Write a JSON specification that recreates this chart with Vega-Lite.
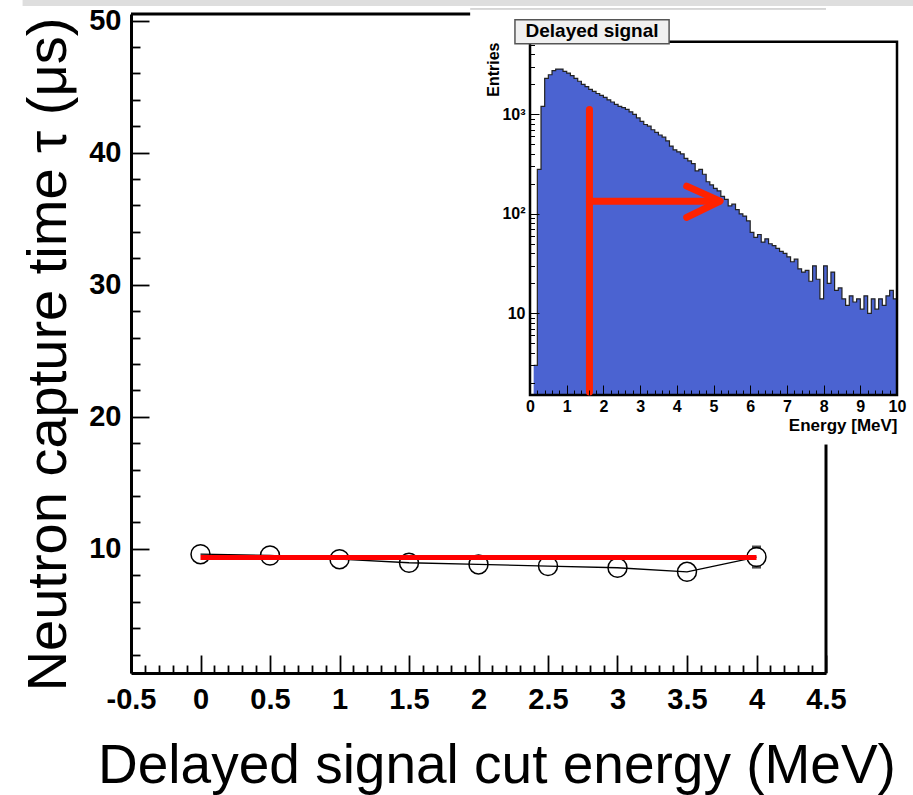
{
  "$schema": "https://vega.github.io/schema/vega-lite/v6.json",
  "width": 695,
  "height": 659,
  "autosize": "none",
  "padding": {"left": 131, "top": 14, "right": 87, "bottom": 122},
  "background": "white",
  "config": {"view": {"stroke": null}, "font": "Liberation Sans"},
  "datasets": {
    "points": [
      {"cut": 0, "tau": 9.6},
      {"cut": 0.5, "tau": 9.5},
      {"cut": 1, "tau": 9.22},
      {"cut": 1.5, "tau": 8.95},
      {"cut": 2, "tau": 8.82},
      {"cut": 2.5, "tau": 8.7},
      {"cut": 3, "tau": 8.57},
      {"cut": 3.5, "tau": 8.26},
      {"cut": 4, "tau": 9.38}
    ],
    "errcaps": [
      {"cut": 4, "tau": 8.62},
      {"cut": 4, "tau": 10.14}
    ],
    "fit": [
      {"cut": 0, "fit": 9.35},
      {"cut": 4, "fit": 9.35}
    ],
    "hist": [
      {"e": 0.1, "n": 3}, {"e": 0.2, "n": 280}, {"e": 0.3, "n": 1200}, {"e": 0.4, "n": 2300},
      {"e": 0.5, "n": 2500}, {"e": 0.6, "n": 2750}, {"e": 0.7, "n": 2850}, {"e": 0.8, "n": 2850},
      {"e": 0.9, "n": 2700}, {"e": 1.0, "n": 2600}, {"e": 1.1, "n": 2450}, {"e": 1.2, "n": 2300},
      {"e": 1.3, "n": 2150}, {"e": 1.4, "n": 2000}, {"e": 1.5, "n": 1900}, {"e": 1.6, "n": 1780},
      {"e": 1.7, "n": 1700}, {"e": 1.8, "n": 1620}, {"e": 1.9, "n": 1550}, {"e": 2.0, "n": 1480},
      {"e": 2.1, "n": 1400}, {"e": 2.2, "n": 1330}, {"e": 2.3, "n": 1260}, {"e": 2.4, "n": 1200},
      {"e": 2.5, "n": 1170}, {"e": 2.6, "n": 1120}, {"e": 2.7, "n": 1060}, {"e": 2.8, "n": 1000},
      {"e": 2.9, "n": 920}, {"e": 3.0, "n": 850}, {"e": 3.1, "n": 790}, {"e": 3.2, "n": 760},
      {"e": 3.3, "n": 700}, {"e": 3.4, "n": 660}, {"e": 3.5, "n": 620}, {"e": 3.6, "n": 590},
      {"e": 3.7, "n": 540}, {"e": 3.8, "n": 480}, {"e": 3.9, "n": 440}, {"e": 4.0, "n": 420},
      {"e": 4.1, "n": 400}, {"e": 4.2, "n": 360}, {"e": 4.3, "n": 340}, {"e": 4.4, "n": 320},
      {"e": 4.5, "n": 270}, {"e": 4.6, "n": 280}, {"e": 4.7, "n": 250}, {"e": 4.8, "n": 210},
      {"e": 4.9, "n": 195}, {"e": 5.0, "n": 180}, {"e": 5.1, "n": 170}, {"e": 5.2, "n": 150},
      {"e": 5.3, "n": 140}, {"e": 5.4, "n": 120}, {"e": 5.5, "n": 125}, {"e": 5.6, "n": 110},
      {"e": 5.7, "n": 100}, {"e": 5.8, "n": 95}, {"e": 5.9, "n": 85}, {"e": 6.0, "n": 65},
      {"e": 6.1, "n": 58}, {"e": 6.2, "n": 62}, {"e": 6.3, "n": 52}, {"e": 6.4, "n": 56},
      {"e": 6.5, "n": 50}, {"e": 6.6, "n": 48}, {"e": 6.7, "n": 45}, {"e": 6.8, "n": 42},
      {"e": 6.9, "n": 40}, {"e": 7.0, "n": 37}, {"e": 7.1, "n": 33}, {"e": 7.2, "n": 35},
      {"e": 7.3, "n": 28}, {"e": 7.4, "n": 26}, {"e": 7.5, "n": 27}, {"e": 7.6, "n": 21},
      {"e": 7.7, "n": 30}, {"e": 7.8, "n": 22}, {"e": 7.9, "n": 14}, {"e": 8.0, "n": 30},
      {"e": 8.1, "n": 20}, {"e": 8.2, "n": 26}, {"e": 8.3, "n": 17}, {"e": 8.4, "n": 18},
      {"e": 8.5, "n": 14}, {"e": 8.6, "n": 12}, {"e": 8.7, "n": 15}, {"e": 8.8, "n": 13},
      {"e": 8.9, "n": 14}, {"e": 9.0, "n": 11}, {"e": 9.1, "n": 15}, {"e": 9.2, "n": 10},
      {"e": 9.3, "n": 14}, {"e": 9.4, "n": 11}, {"e": 9.5, "n": 14}, {"e": 9.6, "n": 12},
      {"e": 9.7, "n": 15}, {"e": 9.8, "n": 17}, {"e": 9.9, "n": 14}, {"e": 10.0, "n": 14}
    ],
    "arrow": [
      {"seg": "v", "ord": 1, "e": 1.62, "n": 1.62},
      {"seg": "v", "ord": 2, "e": 1.62, "n": 1120},
      {"seg": "h", "ord": 1, "e": 1.62, "n": 134},
      {"seg": "h", "ord": 2, "e": 5.15, "n": 134},
      {"seg": "head", "ord": 1, "e": 4.27, "n": 190},
      {"seg": "head", "ord": 2, "e": 5.18, "n": 134},
      {"seg": "head", "ord": 3, "e": 4.27, "n": 92}
    ]
  },
  "layer": [
    {
      "data": {"name": "points"},
      "encoding": {
        "x": {
          "field": "cut", "type": "quantitative",
          "scale": {"domain": [-0.5, 4.5], "nice": false, "zero": false},
          "axis": {
            "orient": "bottom",
            "values": [-0.5,-0.4,-0.3,-0.2,-0.1,0,0.1,0.2,0.3,0.4,0.5,0.6,0.7,0.8,0.9,1,1.1,1.2,1.3,1.4,1.5,1.6,1.7,1.8,1.9,2,2.1,2.2,2.3,2.4,2.5,2.6,2.7,2.8,2.9,3,3.1,3.2,3.3,3.4,3.5,3.6,3.7,3.8,3.9,4,4.1,4.2,4.3,4.4,4.5],
            "grid": false,
            "domainColor": "black", "domainWidth": 3,
            "tickColor": "black", "tickWidth": 1.8,
            "tickSize": {"condition": {"test": "abs(datum.value*2 - round(datum.value*2)) < 0.01", "value": -18}, "value": -8},
            "labelExpr": "abs(datum.value*2 - round(datum.value*2)) < 0.01 ? '' + datum.value : ''",
            "labelFont": "Liberation Sans", "labelFontWeight": "bold", "labelFontSize": 29,
            "labelColor": "black", "labelPadding": 30, "labelFlush": false, "labelOverlap": false,
            "title": "Delayed signal cut energy (MeV)",
            "titleFont": "Liberation Sans", "titleFontSize": 55, "titleFontWeight": "normal",
            "titleColor": "black", "titleX": 365.5, "titleY": 109, "titleAlign": "center", "titleBaseline": "alphabetic"
          }
        },
        "y": {
          "field": "tau", "type": "quantitative",
          "scale": {"domain": [0.6, 50.5], "nice": false, "zero": false},
          "axis": {
            "orient": "left",
            "values": [2,4,6,8,10,12,14,16,18,20,22,24,26,28,30,32,34,36,38,40,42,44,46,48,50],
            "grid": false,
            "domainColor": "black", "domainWidth": 3,
            "tickColor": "black", "tickWidth": 1.8,
            "tickSize": {"condition": {"test": "datum.value % 10 === 0", "value": -18}, "value": -9},
            "labelExpr": "datum.value % 10 === 0 ? '' + datum.value : ''",
            "labelFont": "Liberation Sans", "labelFontWeight": "bold", "labelFontSize": 29,
            "labelColor": "black", "labelPadding": 28, "labelFlush": false, "labelOverlap": false,
            "title": "Neutron capture time τ (μs)",
            "titleFont": "Liberation Sans", "titleFontSize": 56, "titleFontWeight": "normal",
            "titleColor": "black", "titleAngle": -90, "titleX": -66, "titleY": 340, "titleAlign": "center", "titleBaseline": "alphabetic"
          }
        }
      },
      "layer": [
        {
          "transform": [{"filter": "datum.cut == 4"}],
          "mark": {"type": "rect", "color": "#dedede"},
          "encoding": {"x": {"datum": -1.28}, "x2": {"datum": 5.2}, "y": {"datum": 51.1}, "y2": {"datum": 51.8}}
        },
        {
          "transform": [{"filter": "datum.cut == 4"}],
          "mark": {"type": "rule", "color": "#b0b0b0", "strokeWidth": 1},
          "encoding": {"x": {"datum": 1.94}, "x2": {"datum": 4.5}, "y": {"datum": 50.88}}
        },
        {
          "transform": [{"filter": "datum.cut == 4"}],
          "mark": {"type": "rule", "color": "black", "strokeWidth": 3},
          "encoding": {"x": {"datum": -0.5}, "x2": {"datum": 1.94}, "y": {"datum": 50.5}}
        },
        {
          "transform": [{"filter": "datum.cut == 4"}],
          "mark": {"type": "rule", "color": "black", "strokeWidth": 3},
          "encoding": {"x": {"datum": 4.5}, "y": {"datum": 0.6}, "y2": {"datum": 17.9}}
        },
        {"mark": {"type": "line", "color": "black", "strokeWidth": 1.3}},
        {
          "data": {"name": "errcaps"},
          "mark": {"type": "tick", "orient": "horizontal", "color": "black", "size": 9, "thickness": 3}
        },
        {"mark": {"type": "point", "shape": "circle", "filled": false, "color": "black", "strokeWidth": 1.5, "size": 360, "opacity": 1}},
        {
          "data": {"name": "fit"},
          "mark": {"type": "line", "color": "#ff0000", "strokeWidth": 5},
          "encoding": {"y": {"field": "fit", "type": "quantitative"}}
        }
      ]
    },
    {
      "data": {"name": "hist"},
      "encoding": {
        "x": {
          "field": "e", "type": "quantitative",
          "scale": {"domain": [0, 10], "range": [399, 766], "nice": false, "zero": false},
          "axis": {
            "orient": "bottom", "offset": -278, "zindex": 1,
            "values": [0,0.2,0.4,0.6,0.8,1,1.2,1.4,1.6,1.8,2,2.2,2.4,2.6,2.8,3,3.2,3.4,3.6,3.8,4,4.2,4.4,4.6,4.8,5,5.2,5.4,5.6,5.8,6,6.2,6.4,6.6,6.8,7,7.2,7.4,7.6,7.8,8,8.2,8.4,8.6,8.8,9,9.2,9.4,9.6,9.8,10],
            "grid": false, "domain": false,
            "tickColor": "black", "tickWidth": 1,
            "tickSize": {"condition": {"test": "abs(datum.value - round(datum.value)) < 0.01", "value": -10}, "value": -5},
            "labelExpr": "abs(datum.value - round(datum.value)) < 0.01 ? '' + datum.value : ''",
            "labelFont": "Liberation Sans", "labelFontWeight": "bold", "labelFontSize": 16,
            "labelColor": "black", "labelPadding": 13, "labelFlush": false, "labelOverlap": false,
            "title": "Energy [MeV]",
            "titleFont": "Liberation Sans", "titleFontSize": 17, "titleFontWeight": "bold",
            "titleColor": "black", "titleX": 766, "titleY": 35, "titleAlign": "right", "titleBaseline": "alphabetic"
          }
        },
        "y": {
          "field": "n", "type": "quantitative",
          "scale": {"type": "log", "domain": [1.51, 5370], "range": [381, 27.7], "nice": false, "zero": false},
          "axis": {
            "orient": "left", "offset": -399, "zindex": 1,
            "values": [2,3,4,5,6,7,8,9,10,20,30,40,50,60,70,80,90,100,200,300,400,500,600,700,800,900,1000,2000,3000,4000,5000],
            "grid": false, "domain": false,
            "tickColor": "black", "tickWidth": 1,
            "tickSize": {"condition": {"test": "datum.value == 10 || datum.value == 100 || datum.value == 1000", "value": -9}, "value": -4.5},
            "labelExpr": "datum.value == 1000 ? '10³' : datum.value == 100 ? '10²' : datum.value == 10 ? '10' : ''",
            "labelFont": "Liberation Sans", "labelFontWeight": "bold", "labelFontSize": 16,
            "labelColor": "black", "labelPadding": 14, "labelFlush": false, "labelOverlap": false,
            "title": "Entries",
            "titleFont": "Liberation Sans", "titleFontSize": 16, "titleFontWeight": "bold",
            "titleColor": "black", "titleAngle": -90, "titleX": -32, "titleY": 28, "titleAlign": "right", "titleBaseline": "alphabetic"
          }
        }
      },
      "layer": [
        {
          "mark": {"type": "area", "interpolate": "step-after", "color": "#4b63d1", "opacity": 1},
          "encoding": {"y2": {"datum": 1.51}}
        },
        {
          "mark": {"type": "line", "interpolate": "step-after", "color": "#222222", "strokeWidth": 1.2}
        },
        {
          "transform": [{"filter": "datum.e == 10"}],
          "mark": {"type": "rect", "fill": null, "stroke": "black", "strokeWidth": 2.5},
          "encoding": {"x": {"datum": 0}, "x2": {"datum": 10}, "y": {"datum": 1.51}, "y2": {"datum": 5370}}
        },
        {
          "data": {"name": "arrow"},
          "mark": {"type": "line", "color": "#ff2200", "strokeWidth": 7, "strokeCap": "round", "strokeJoin": "round"},
          "encoding": {
            "detail": {"field": "seg"},
            "order": {"field": "ord"}
          }
        },
        {
          "transform": [{"filter": "datum.e == 10"}],
          "mark": {"type": "rect", "fill": "#f0f0f0", "stroke": "#555555", "strokeWidth": 1.5},
          "encoding": {"x": {"datum": -0.41}, "x2": {"datum": 3.79}, "y": {"datum": 5130}, "y2": {"datum": 8900}}
        },
        {
          "transform": [{"filter": "datum.e == 10"}],
          "mark": {"type": "text", "text": "Delayed signal", "font": "Liberation Sans", "fontWeight": "bold", "fontSize": 19, "color": "black", "align": "center", "baseline": "middle"},
          "encoding": {"x": {"datum": 1.69}, "y": {"datum": 6870}}
        }
      ]
    }
  ],
  "resolve": {"scale": {"x": "independent", "y": "independent"}}
}
